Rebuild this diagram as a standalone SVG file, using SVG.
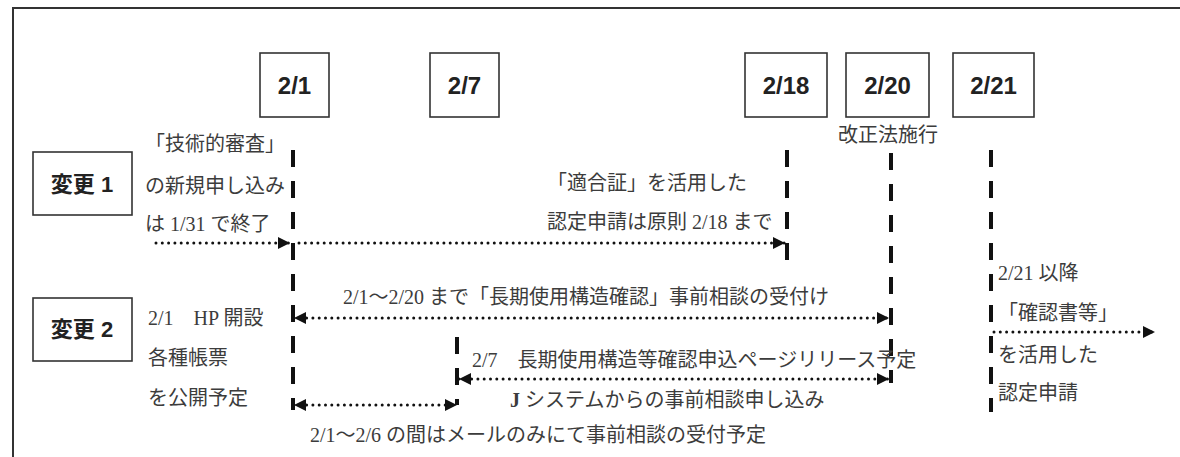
<svg xmlns="http://www.w3.org/2000/svg" width="1180" height="457" viewBox="0 0 1180 457">
<style>
.frame{fill:none;stroke:#333;stroke-width:2}
.box{fill:#fff;stroke:#333;stroke-width:1.6}
.date{font-family:"Liberation Sans","Noto Sans CJK JP",sans-serif;font-weight:bold;font-size:24px;fill:#222;text-anchor:middle}
.lbl{font-family:"Liberation Sans","Noto Sans CJK JP",sans-serif;font-weight:bold;font-size:22px;fill:#222;text-anchor:middle}
.t{font-family:"Liberation Serif","Noto Sans CJK JP",serif;font-size:20px;fill:#3c3c3c}
.vl{fill:none;stroke:#111;stroke-width:4;stroke-dasharray:17 14}
.dot{fill:none;stroke:#111;stroke-width:3;stroke-linecap:round;stroke-dasharray:0 6.3}
</style>
<defs>
<marker id="ah" markerUnits="userSpaceOnUse" markerWidth="14" markerHeight="12" refX="12" refY="6" orient="auto-start-reverse">
<path d="M0,0 L12,6 L0,12 Z" fill="#111"/>
</marker>
</defs>
<path class="frame" d="M13,457 L13,8 L1180,8"/>
<g id="date-2-1"><rect class="box" x="260" y="53" width="69" height="64"/><text class="date" x="294.5" y="94">2/1</text></g>
<g id="date-2-7"><rect class="box" x="430" y="53" width="69" height="64"/><text class="date" x="464.5" y="94">2/7</text></g>
<g id="date-2-18"><rect class="box" x="745" y="53" width="82" height="64"/><text class="date" x="786" y="94">2/18</text></g>
<g id="date-2-20"><rect class="box" x="846" y="53" width="83" height="64"/><text class="date" x="887.5" y="94">2/20</text><text class="t" x="888" y="142" text-anchor="middle">改正法施行</text></g>
<g id="date-2-21"><rect class="box" x="953" y="53" width="81" height="64"/><text class="date" x="993.5" y="94">2/21</text></g>
<g id="change1"><rect class="box" x="33" y="152" width="99" height="63"/><text class="lbl" x="82" y="192">変更 1</text></g>
<g id="change2"><rect class="box" x="33" y="298" width="99" height="63"/><text class="lbl" x="82" y="337">変更 2</text></g>
<g id="connectors">
<line class="vl" x1="293" y1="150" x2="293" y2="410"/>
<line class="vl" x1="457" y1="337" x2="457" y2="405"/>
<line class="vl" x1="787" y1="150" x2="787" y2="262"/>
<line class="vl" x1="891" y1="153" x2="891" y2="383"/>
<line class="vl" x1="991" y1="150" x2="991" y2="412"/>
<line class="dot" x1="156" y1="243" x2="290" y2="243" marker-end="url(#ah)"/>
<line class="dot" x1="299" y1="243" x2="785" y2="243" marker-end="url(#ah)"/>
<line class="dot" x1="294" y1="318" x2="889" y2="318" marker-start="url(#ah)" marker-end="url(#ah)"/>
<line class="dot" x1="459" y1="379" x2="889" y2="379" marker-start="url(#ah)" marker-end="url(#ah)"/>
<line class="dot" x1="294" y1="405" x2="457" y2="405" marker-start="url(#ah)" marker-end="url(#ah)"/>
<line class="dot" x1="994" y1="332" x2="1155" y2="332" marker-end="url(#ah)"/>
</g>
<g id="texts">
<text class="t" x="145" y="151">「技術的審査」</text>
<text class="t" x="145" y="193">の新規申し込み</text>
<text class="t" x="145" y="231">は 1/31 で終了</text>
<text class="t" x="547" y="190">「適合証」を活用した</text>
<text class="t" x="547" y="229">認定申請は原則 2/18 まで</text>
<text class="t" x="343" y="304">2/1～2/20 まで「長期使用構造確認」事前相談の受付け</text>
<text class="t" x="148" y="325">2/1　HP 開設</text>
<text class="t" x="148" y="365">各種帳票</text>
<text class="t" x="148" y="405">を公開予定</text>
<text class="t" x="472" y="367">2/7　長期使用構造等確認申込ページリリース予定</text>
<text class="t" x="510" y="407"><tspan font-weight="bold">J</tspan> システムからの事前相談申し込み</text>
<text class="t" x="310" y="442">2/1～2/6 の間はメールのみにて事前相談の受付予定</text>
<text class="t" x="998" y="280">2/21 以降</text>
<text class="t" x="998" y="320">「確認書等」</text>
<text class="t" x="998" y="362">を活用した</text>
<text class="t" x="998" y="400">認定申請</text>
</g>
</svg>
